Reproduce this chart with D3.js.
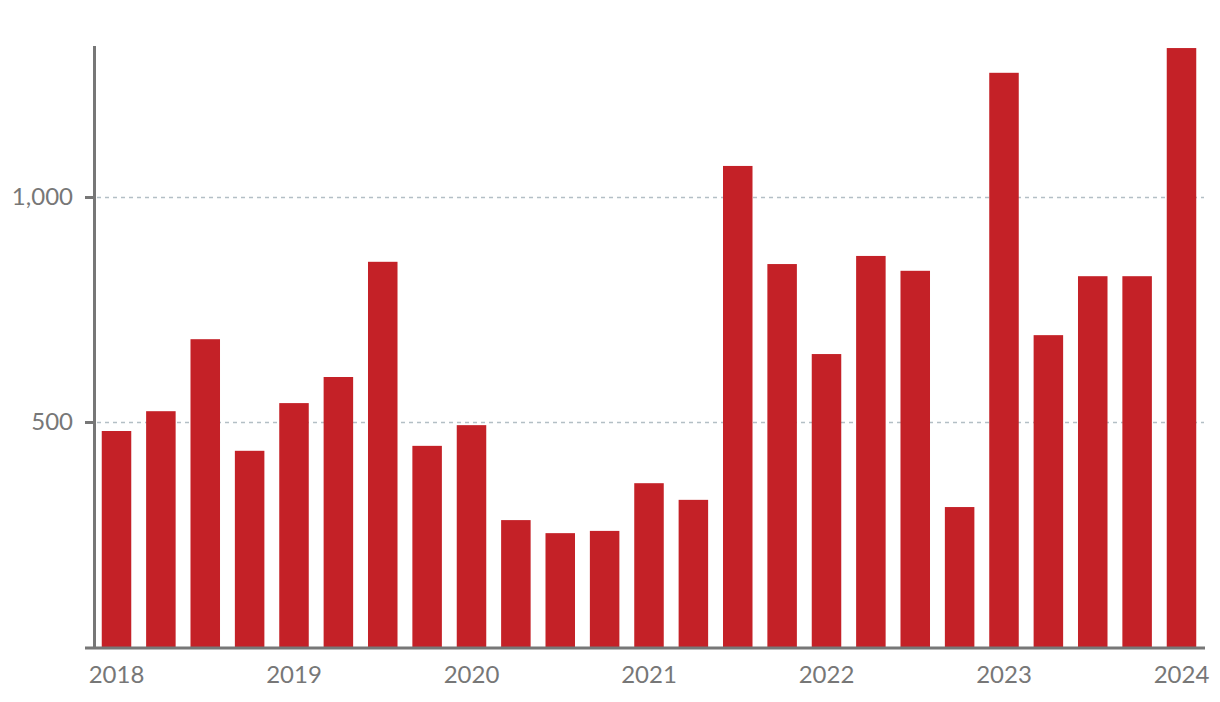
<!DOCTYPE html>
<html>
<head>
<meta charset="utf-8">
<script src="https://cdn.jsdelivr.net/npm/d3@7"></script>
<style>
  body { margin: 0; background: #fff; }
  text { font-family: Lato, "Open Sans", sans-serif; fill: #777; }
</style>
</head>
<body>
<div id="chart"></div>
<script>
  // quarterly values, 2018 Q1 .. 2024 Q1
  var quarters = ['2018 Q1','2018 Q2','2018 Q3','2018 Q4',
    '2019 Q1','2019 Q2','2019 Q3','2019 Q4',
    '2020 Q1','2020 Q2','2020 Q3','2020 Q4',
    '2021 Q1','2021 Q2','2021 Q3','2021 Q4',
    '2022 Q1','2022 Q2','2022 Q3','2022 Q4',
    '2023 Q1','2023 Q2','2023 Q3','2023 Q4',
    '2024 Q1'];
  var values = [480, 524, 684, 436, 542, 600, 856, 447, 493, 282, 253, 258,
    364, 327, 1069, 851, 651, 869, 836, 311, 1276, 693, 824, 824, 1331];
  var yearLabels = ['2018','2019','2020','2021','2022','2023','2024'];
  var yTicks = [500, 1000];

  var width = 1220, height = 702;
  var baseY = 647;

  var svg = d3.select('#chart').append('svg')
    .attr('width', width)
    .attr('height', height);

  var x = d3.scaleBand()
    .domain(quarters)
    .range([97, 1201])
    .paddingInner(0.335)
    .paddingOuter(0.107);

  var y = d3.scaleLinear()
    .domain([0, 1340])
    .range([baseY, 44]);

  // grid
  svg.selectAll('.grid')
    .data(yTicks)
    .enter().append('line')
    .attr('x1', 97).attr('x2', 1204)
    .attr('y1', function(d) { return Math.round(y(d)) + 0.5; })
    .attr('y2', function(d) { return Math.round(y(d)) + 0.5; })
    .attr('stroke', '#b3bfc5')
    .attr('stroke-width', 1.3)
    .attr('stroke-dasharray', '4,4');

  // bars
  svg.selectAll('.bar')
    .data(values)
    .enter().append('rect')
    .attr('x', function(d, i) { return x(quarters[i]); })
    .attr('width', x.bandwidth())
    .attr('y', function(d) { return y(d); })
    .attr('height', function(d) { return baseY - y(d); })
    .attr('fill', '#c42127');

  // y axis line + ticks
  svg.append('line')
    .attr('x1', 94.5).attr('x2', 94.5)
    .attr('y1', 46).attr('y2', baseY)
    .attr('stroke', '#777').attr('stroke-width', 3);

  svg.selectAll('.ytick')
    .data(yTicks)
    .enter().append('line')
    .attr('x1', 85).attr('x2', 94)
    .attr('y1', function(d) { return Math.round(y(d)) + 0.5; })
    .attr('y2', function(d) { return Math.round(y(d)) + 0.5; })
    .attr('stroke', '#777').attr('stroke-width', 3);

  svg.selectAll('.ylabel')
    .data(yTicks)
    .enter().append('text')
    .attr('x', 73)
    .attr('y', function(d) { return y(d); })
    .attr('dy', '0.35em')
    .attr('text-anchor', 'end')
    .style('font-size', '24px')
    .text(d3.format(','));

  // x axis line
  svg.append('line')
    .attr('x1', 85).attr('x2', 1205)
    .attr('y1', baseY + 1).attr('y2', baseY + 1)
    .attr('stroke', '#777').attr('stroke-width', 3);

  // year labels under every Q1 bar
  svg.selectAll('.xlabel')
    .data(yearLabels)
    .enter().append('text')
    .attr('x', function(d) { return x(d + ' Q1') + x.bandwidth() / 2; })
    .attr('y', 683)
    .attr('text-anchor', 'middle')
    .style('font-size', '24px')
    .text(function(d) { return d; });
</script>
</body>
</html>
